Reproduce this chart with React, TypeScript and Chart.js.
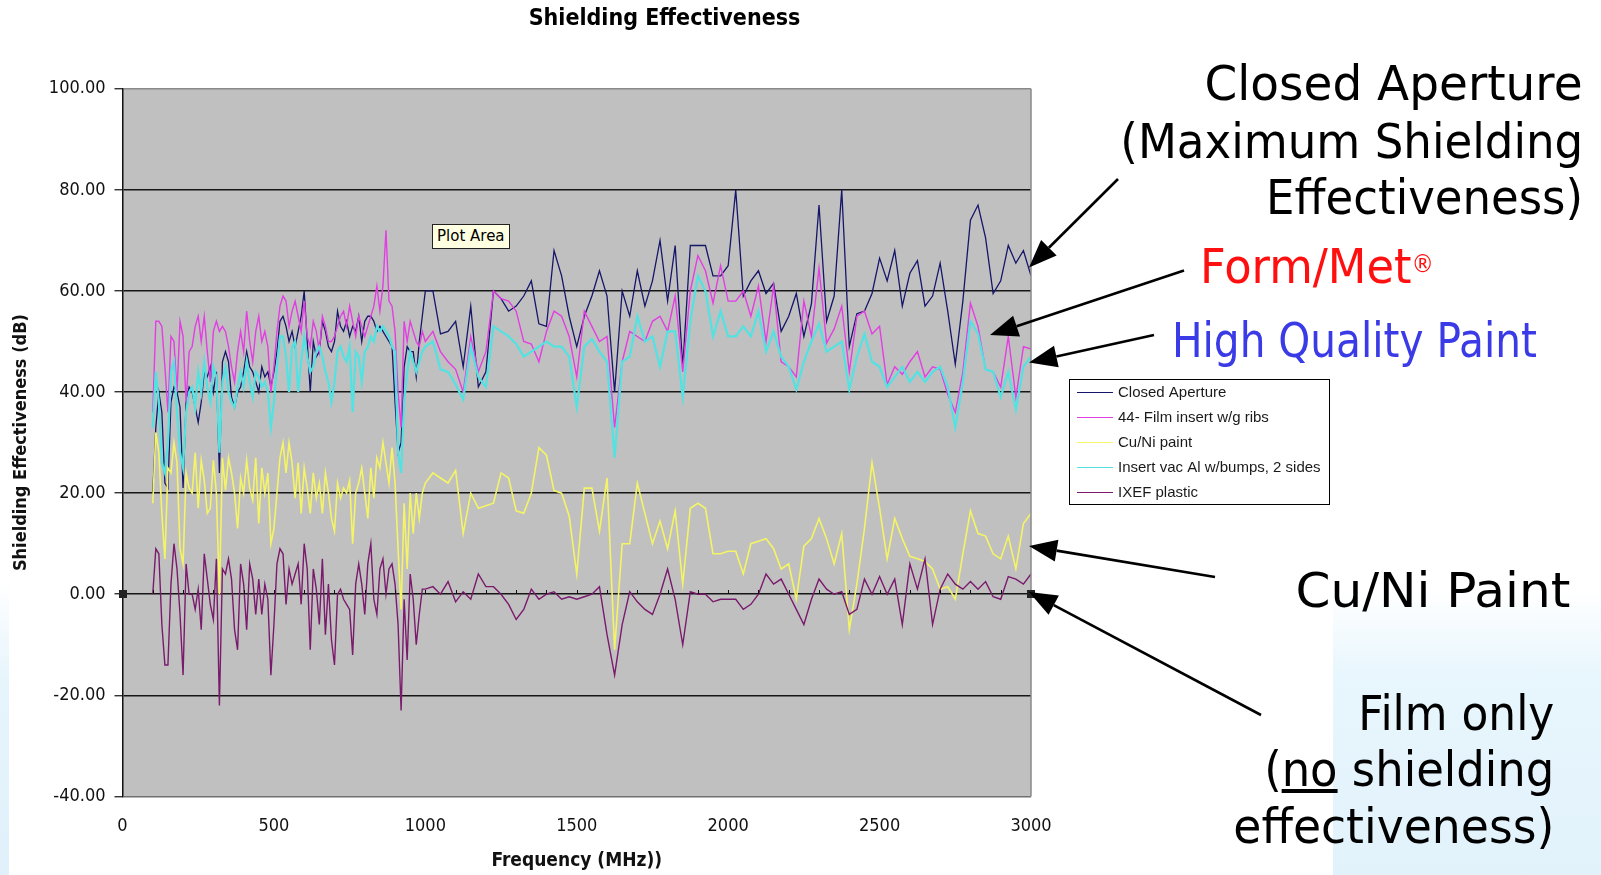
import React, { useEffect, useLayoutEffect, useRef } from "react";
import { Chart, registerables } from "chart.js";

Chart.register(...registerables);

// ---------- text ----------
const TITLE = "Shielding Effectiveness";
const X_TITLE = "Frequency (MHz))";
const Y_TITLE = "Shielding Effectiveness (dB)";
const SERIES_NAMES = [
  "Closed Aperture",
  "44- Film insert w/g ribs",
  "Cu/Ni paint",
  "Insert vac Al w/bumps, 2 sides",
  "IXEF plastic",
];

// ---------- data ----------
const FREQ_LOW = [100,110,120,130,140,150,160,170,180,190,200,210,220,230,240,250,260,270,280,290,300,310,320,330,340,350,360,370,380,390,400,410,420,430,440,450,460,470,480,490,500,510,520,530,540,550,560,570,580,590,600,610,620,630,640,650,660,670,680,690,700,710,720,730,740,750,760,770,780,790,800,810,820,830,840,850,860,870,880,890,900,910,920,930,940,950,960,970,980,990,1000];
const FREQ_HIGH = [1025,1050,1075,1100,1125,1150,1175,1200,1225,1250,1275,1300,1325,1350,1375,1400,1425,1450,1475,1500,1525,1550,1575,1600,1625,1650,1675,1700,1725,1750,1775,1800,1825,1850,1875,1900,1925,1950,1975,2000,2025,2050,2075,2100,2125,2150,2175,2200,2225,2250,2275,2300,2325,2350,2375,2400,2425,2450,2475,2500,2525,2550,2575,2600,2625,2650,2675,2700,2725,2750,2775,2800,2825,2850,2875,2900,2925,2950,2975,3000];

const CLOSED_LOW = [20,33,40,36,22,21,38,41,40,37,21,38,41,40,37,34,38,44,43,45,40,44,24,46,48,46,39,37,40,41,44,48,45,44,42,40,45,43,44,41,44,48,54,55,53,50,52,49,52,55,60,50,40,50,47,48,54,52,49,48,50,56,53,52,54,51,53,52,55,50,54,55,55,54,52,53,52,51,50,49,38,28,30,45,49,48,48,43,50,55,60];
const CLOSED_HIGH = [60,51.5,52,54,45,57,41,44,60,58.5,56,57,59,62,53.5,53,68,63,55,49,55,59,64,59,40,60,55,64,57,62,70,58,69,45,69,69,69,63,63,65,80,59,62,64,59.5,61.5,52,55,59.5,51,57.5,77,54,59,80,49,55.5,56,59.5,66.5,62,68,57,63.5,66,57,59,65.5,56,45.5,58,74,77,70.5,59.5,62,69,65.5,68,63];

const FILM_LOW = [36,54,54,53,45,36,51,50,40,54,51,38,48,49,53,55,50,55,48,42,52,54,52,53,52,49,45,42,48,52,48,56,50,46,52,55,50,52,49,40,45,52,57,59,58,53,56,58,55,52,58,51,49,54,52,48,55,53,50,50,51,53,55,56,53,57,54,51,55,53,51,53,55,57,61,56,61,72,58,57,52,40,33,54,50,54,52,50,49,52,50];
const FILM_HIGH = [52,48,46,44.5,40,51,44,48,60,58.5,58,56,50,49.5,46,52,56,55,51,43,56,53,50,51,33,46,52,51,50,54,55,52,59,44,60,67,64,57.6,65,58,58,60,55,61,50,61,46,45,43,58,51,64.5,49.7,52.5,57,44,55,56,51.5,53,41.5,45,43.5,46,48,43,45,44.5,39.5,36,44,57.6,53,44.5,44,41,51,39,49,48.5];

const CUNI_LOW = [18,32,28,16,7,25,24,30,26,9,6,24,21,20,28,17,26.5,22.5,16,17,26.5,20,0,27,20.6,27,24,20,13,23,20,26.5,21,18.6,27,14,25,20,24,10,13,20,27,30,24,30,26,19,26,16,25,21,16,24,19,22,16,24,20,15,12.5,22,19,21,20,22.5,10,20,22,25,20,15,25,19,27,25,30,26,22,29,22,9,-3,18,5,20,12,20,15,20,22];
const CUNI_HIGH = [24,23,22,24.5,12,20,17,17.5,18,24,23,16.5,16,20,29,27.5,20.5,20,15.5,4,21,21,12.5,23,-11,10,10,22,16,10,14.5,9,16.5,2,17,18,17,8,8,8.5,8.5,4,10,10.5,11,9,5,6,-1,9.5,11,15,11,6,12,-7,2,13,26,17,7,15,11,7.5,7,6.5,5,1,1.5,-1,8,16.5,12,11.5,8,7,11.5,5,14,16];

const INSERT_LOW = [33,44,38,26,24,30,44,46,36,28,25,36,40,41,37,44,40,46,41,38,45,43,28,42,45,40,38,37,41,44,41,46,42,39,44,43,41,42,40,33,38,45,51,51,47,40,49,50,40,46,51,47,44,45,48,49,47,44,42,38,42,48,49,47,46,49,36,48,47,42,48,49,51,50,53,52,53,52,51,49,48,28,24,38,44,48,46,44,46,48,49];
const INSERT_HIGH = [50,44.5,44,41.5,38.5,49,43,41,53,52,51,49.5,47,48,49,50,49,49,47,37,49,50.5,48,46,27,46,47,55,50,51,45,52,52,39,54,63,60,51,56,51,51,53,51,56,48,52,47,45,40.5,46,50,53.5,48,49,50,40.5,47,51.5,46,45,41,43,45,42,44,42,44,45,41,33,42,54,51.5,44.5,44,39,44,36.5,45,47];

const IXEF_LOW = [0,9,8,-6,-14,-14,2,10,5,-4,-16,6,0,0,-3,1,-7,8,3,-2,-5,7,-22,5,4,7,3,-7,-11,6,2,-7,6,3,-4,3,-4,2,-1,-16,-6,6,9,8,-2,5,2,4,6,-2,10,5,-11,5,1,-6,7,-8,2,-9,-14,0,1,-1,-2,-3,-12,2,6,2,-4,6,10,-1,-4,5,7,0,5,6,2,-6,-23,-1,-13,4,-1,-10,-4,1,1];
const IXEF_HIGH = [1.5,0,2.5,-1.5,0.5,-1,4,1.5,1.5,0,-2,-5,-3,1,-1,0,0.5,-1,-0.5,-1,-0.5,0,1.5,-8,-16,-6,0.5,-1.5,-3,-4,0,5,-1,-10,0.5,0,0,-1.5,-1,-1,-1,-3,-2,0,4,2,3,0,-3,-6,-1,3,1,0,0.5,-4,-3,3,0,3.5,0,3,-6,6,1,7,-6,1,4,2,1,2.5,1,2.5,-0.5,-1,3.5,3,2,4];

const Y_TICK_STEP = 20;
const X_TICK_STEP = 500;

// ---------- style ----------
const W = 1601;
const H = 875;
const COND = '"DejaVu Sans Condensed", "Liberation Sans Narrow", "Liberation Sans", sans-serif';
const COLORS = ["#15156a", "#e23ee2", "#f4f466", "#52e2e2", "#7a1a6c"];
const WIDTHS = [1.3, 1.4, 1.6, 2.2, 1.4];
const ORDERS = [5, 4, 3, 2, 1];
const ARROWS = [
  [1118, 179, 1029, 267.5],
  [1184, 270.6, 990, 335],
  [1154, 335, 1029, 362.5],
  [1215, 577, 1029, 546],
  [1261, 715, 1029, 592],
];

const FREQ = [...FREQ_LOW, ...FREQ_HIGH];
const SERIES_VALUES = [
  [...CLOSED_LOW, ...CLOSED_HIGH],
  [...FILM_LOW, ...FILM_HIGH],
  [...CUNI_LOW, ...CUNI_HIGH],
  [...INSERT_LOW, ...INSERT_HIGH],
  [...IXEF_LOW, ...IXEF_HIGH],
];

function drawArrow(ctx: CanvasRenderingContext2D, x1: number, y1: number, x2: number, y2: number) {
  const ang = Math.atan2(y2 - y1, x2 - x1);
  const hl = 28;
  const hw = 11;
  const bx = x2 - hl * Math.cos(ang);
  const by = y2 - hl * Math.sin(ang);
  ctx.strokeStyle = "#000";
  ctx.lineWidth = 2.6;
  ctx.beginPath();
  ctx.moveTo(x1, y1);
  ctx.lineTo(bx, by);
  ctx.stroke();
  ctx.fillStyle = "#000";
  ctx.beginPath();
  ctx.moveTo(x2, y2);
  ctx.lineTo(bx + hw * Math.sin(ang), by - hw * Math.cos(ang));
  ctx.lineTo(bx - hw * Math.sin(ang), by + hw * Math.cos(ang));
  ctx.closePath();
  ctx.fill();
}

const decorPlugin = {
  id: "decor",
  beforeDraw(chart: any) {
    const { ctx, chartArea: a } = chart;
    ctx.save();
    ctx.fillStyle = "#c0c0c0";
    ctx.fillRect(a.left, a.top, a.right - a.left, a.bottom - a.top);
    ctx.restore();
  },
  afterDraw(chart: any) {
    const { ctx, chartArea: a, scales } = chart;
    const xs = scales.x;
    const ys = scales.y;
    ctx.save();
    // right border of plot area
    ctx.strokeStyle = "#8a8a8a";
    ctx.lineWidth = 1.5;
    ctx.beginPath();
    ctx.moveTo(a.right, a.top);
    ctx.lineTo(a.right, a.bottom);
    ctx.stroke();
    // x axis crosses at 0: small tick marks
    const y0 = Math.round(ys.getPixelForValue(0));
    ctx.strokeStyle = "#111";
    ctx.lineWidth = 1;
    for (let f = 100; f < 3000; f += 100) {
      const px = Math.round(xs.getPixelForValue(f)) + 0.5;
      ctx.beginPath();
      ctx.moveTo(px, y0);
      ctx.lineTo(px, y0 - 4);
      ctx.stroke();
    }
    // selection handles
    ctx.fillStyle = "#222";
    [a.left, a.right].forEach((px: number) => ctx.fillRect(Math.round(px) - 4, y0 - 4, 8, 8));
    // title
    ctx.fillStyle = "#000";
    ctx.font = `bold 23px ${COND}`;
    ctx.textAlign = "center";
    ctx.textBaseline = "middle";
    ctx.fillText(TITLE, 664.5, 19);
    // legend
    const lx = 1069.5, ly = 379.5, lw = 260, lh = 125;
    ctx.fillStyle = "#fff";
    ctx.fillRect(lx, ly, lw, lh);
    ctx.strokeStyle = "#000";
    ctx.lineWidth = 1;
    ctx.strokeRect(lx, ly, lw, lh);
    ctx.font = `15px "Liberation Sans", Arial, sans-serif`;
    ctx.textAlign = "left";
    ctx.textBaseline = "middle";
    chart.data.datasets.forEach((ds: any, i: number) => {
      const yy = Math.round(ly + 12 + i * 25.2) + 0.5;
      ctx.strokeStyle = ds.borderColor;
      ctx.lineWidth = 1.2;
      ctx.beginPath();
      ctx.moveTo(1077, yy);
      ctx.lineTo(1113, yy);
      ctx.stroke();
      ctx.fillStyle = "#1a1a1a";
      ctx.fillText(ds.label, 1118, yy);
    });
    // arrows
    ARROWS.forEach((r) => drawArrow(ctx, r[0], r[1], r[2], r[3]));
    ctx.restore();
  },
};

function FitLine(props: { right?: number; left?: number; top: number; target: number; color?: string; children: any }) {
  const ref = useRef<HTMLSpanElement>(null);
  useLayoutEffect(() => {
    const el = ref.current;
    if (!el) return;
    el.style.transform = "none";
    const w = el.getBoundingClientRect().width;
    if (w > 0) el.style.transform = `scaleX(${props.target / w})`;
  }, [props.target]);
  const style: any = {
    position: "absolute",
    top: props.top,
    height: 48,
    whiteSpace: "nowrap",
    font: '48px "DejaVu Sans", sans-serif',
    lineHeight: "48px",
    color: props.color || "#000",
    transformOrigin: props.right !== undefined ? "right center" : "left center",
  };
  if (props.right !== undefined) style.right = W - props.right;
  else style.left = props.left;
  return (
    <span ref={ref} style={style}>
      {props.children}
    </span>
  );
}

export default function App() {
  const canvasRef = useRef<HTMLCanvasElement>(null);

  useEffect(() => {
    const canvas = canvasRef.current;
    if (!canvas) return;
    const datasets = SERIES_NAMES.map((name, s) => ({
      label: name,
      data: FREQ.map((f, i) => ({ x: f, y: SERIES_VALUES[s][i] })),
      borderColor: COLORS[s],
      backgroundColor: COLORS[s],
      borderWidth: WIDTHS[s],
      pointRadius: 0,
      tension: 0,
      fill: false,
      order: ORDERS[s],
    }));
    const chart = new Chart(canvas, {
      type: "line",
      data: { datasets },
      options: {
        responsive: false,
        animation: false,
        devicePixelRatio: 1,
        layout: { padding: { left: 0, top: 88.8, right: W - 1031, bottom: 0 } },
        plugins: { legend: { display: false }, tooltip: { enabled: false }, title: { display: false } },
        scales: {
          x: {
            type: "linear",
            min: 0,
            max: 3000,
            ticks: {
              stepSize: X_TICK_STEP,
              autoSkip: false,
              maxRotation: 0,
              padding: 19,
              color: "#111",
              font: { family: COND, size: 18 },
              callback: (v: any) => String(v),
            },
            grid: { display: true, drawOnChartArea: false, drawTicks: false },
            border: { display: false },
            title: {
              display: true,
              text: X_TITLE,
              color: "#111",
              font: { family: COND, size: 19, weight: "bold" },
              padding: { top: 0, bottom: 3 },
            },
            afterFit: (s: any) => {
              s.height = H - 796.4;
            },
          },
          y: {
            type: "linear",
            min: -40,
            max: 100,
            ticks: {
              stepSize: Y_TICK_STEP,
              padding: 9,
              color: "#111",
              font: { family: COND, size: 18 },
              callback: (v: any) => Number(v).toFixed(2),
            },
            grid: {
              color: (c: any) => (c.tick && c.tick.value === 100 ? "#8a8a8a" : c.tick && c.tick.value === -40 ? "#707070" : "#161616"),
              lineWidth: 1.5,
              drawTicks: true,
              tickLength: 8,
              tickColor: "#111",
              tickWidth: 1.2,
            },
            border: { display: true, color: "#111", width: 1.5 },
            title: {
              display: true,
              text: Y_TITLE,
              color: "#111",
              font: { family: COND, size: 18, weight: "bold" },
              padding: { top: 11, bottom: 0 },
            },
            afterFit: (s: any) => {
              s.width = 122.5;
            },
          },
        },
      } as any,
      plugins: [decorPlugin as any],
    });
    return () => chart.destroy();
  }, []);

  return (
    <div style={{ position: "absolute", left: 0, top: 0, width: W, height: H, overflow: "hidden", background: "#fff" }}>
      <div style={{ position: "absolute", left: 0, top: 580, width: 9, height: 295, background: "linear-gradient(to bottom, rgba(230,244,252,0), #e6f4fc 35%, #e0f1fb)" }} />
      <div style={{ position: "absolute", left: 1333, top: 590, width: 268, height: 285, background: "linear-gradient(to bottom, rgba(232,246,253,0) 0%, rgba(232,246,253,1) 30%, #e2f2fb 100%)" }} />
      <canvas ref={canvasRef} width={W} height={H} style={{ position: "absolute", left: 0, top: 0, width: W, height: H }} />
      <div
        style={{
          position: "absolute",
          left: 432,
          top: 224,
          width: 78,
          height: 25,
          boxSizing: "border-box",
          background: "#ffffe1",
          border: "1px solid #222",
          font: '15px "DejaVu Sans", sans-serif',
          lineHeight: "23px",
          paddingLeft: 4,
          color: "#000",
          whiteSpace: "nowrap",
        }}
      >
        Plot Area
      </div>
      <FitLine right={1583} top={59} target={378}>Closed Aperture</FitLine>
      <FitLine right={1583} top={117} target={463}>(Maximum Shielding</FitLine>
      <FitLine right={1583} top={173} target={317}>Effectiveness)</FitLine>
      <FitLine left={1200} top={242} target={234} color="#ff1010">
        Form/Met
        <span style={{ position: "relative", top: "-0.45em", fontSize: "0.5em", lineHeight: 0 }}>®</span>
      </FitLine>
      <FitLine left={1172} top={316} target={365} color="#3a3ae6">High Quality Paint</FitLine>
      <FitLine right={1570} top={566} target={275}>Cu/Ni Paint</FitLine>
      <FitLine right={1554} top={689} target={196}>Film only</FitLine>
      <FitLine right={1554} top={745} target={290}>
        (<span style={{ textDecoration: "underline" }}>no</span> shielding
      </FitLine>
      <FitLine right={1554} top={802} target={321}>effectiveness)</FitLine>
    </div>
  );
}
